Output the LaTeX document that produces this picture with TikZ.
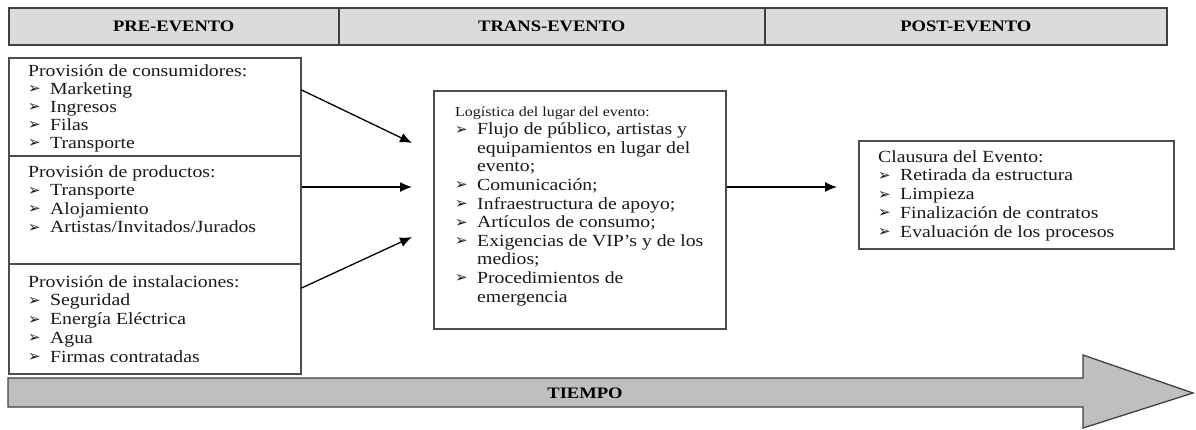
\documentclass[tikz,border=0pt]{standalone}
\usepackage{fontspec}
\setmainfont[FakeStretch=1.16]{Liberation Serif}
\newfontfamily\dingfont{DejaVu Sans}
\usetikzlibrary{calc,arrows.meta}
\newcommand\bul{\makebox[22pt][l]{\raisebox{0.5pt}{\dingfont\fontsize{15}{15}\selectfont ➢}}}
\newcommand\ind{\hspace*{22pt}}
\newcommand\textlines[5]{\foreach \tl [count=\i] in {#5} {\node[txt] (#1-\i) at (#2,{#3+(\i-1)*#4}) {\tl};}}
\begin{document}
\begin{tikzpicture}[x=1pt,y=-1pt,
  hdr/.style={draw=black!75, line width=1.5pt, fill=gray!28, minimum height=37pt, anchor=north west, inner sep=0pt, font=\fontsize{16}{18}\selectfont\bfseries},
  panel/.style={draw=black!70, line width=1.6pt, fill=white, anchor=north west, inner sep=0pt},
  txt/.style={anchor=base west, inner sep=0pt, font=\fontsize{17}{18}\selectfont, text=black!90},
  conn/.style={line width=1.3pt, -{Latex[length=12pt,width=10pt]}}]
\useasboundingbox (0,0) rectangle (1196,429);
% header
\node[hdr, minimum width=330pt] (h1) at (8,7) {PRE-EVENTO};
\node[hdr, minimum width=426pt] (h2) at (338,7) {TRANS-EVENTO};
\node[hdr, minimum width=402pt] (h3) at (764,7) {POST-EVENTO};
% panels
\node[panel, minimum width=292pt, minimum height=98pt] (b1) at (8,57) {};
\node[panel, minimum width=292pt, minimum height=108pt] (b2) at (8,155) {};
\node[panel, minimum width=292pt, minimum height=110pt] (b3) at (8,263) {};
\node[panel, minimum width=292pt, minimum height=238pt] (m) at (433,90) {};
\node[panel, minimum width=315pt, minimum height=108pt] (r) at (858,140) {};
% texts
\textlines{b1t}{28}{76}{18}{Provisión de consumidores:, \bul Marketing, \bul Ingresos, \bul Filas, \bul Transporte}
\textlines{b2t}{28}{177}{18.5}{Provisión de productos:, \bul Transporte, \bul Alojamiento, \bul Artistas/Invitados/Jurados}
\textlines{b3t}{28}{287}{18.8}{Provisión de instalaciones:, \bul Seguridad, \bul Energía Eléctrica, \bul Agua, \bul Firmas contratadas}
\textlines{mt}{455}{116}{18.6}{{\fontsize{13.8}{16}\selectfont Logística del lugar del evento:}, {\bul Flujo de público, artistas y}, \ind equipamientos en lugar del, \ind evento;, \bul Comunicación;, \bul Infraestructura de apoyo;, \bul Artículos de consumo;, \bul Exigencias de VIP’s y de los, \ind medios;, \bul Procedimientos de, \ind emergencia}
\textlines{rt}{878}{162}{18.75}{Clausura del Evento:, \bul Retirada da estructura, \bul Limpieza, \bul Finalización de contratos, \bul Evaluación de los procesos}
% connectors
\coordinate (t1) at (412,143);
\coordinate (t2) at (412,187);
\coordinate (t3) at (412,237);
\coordinate (t4) at (837,187);
\draw[conn] ($(b1.north east)+(0,33)$) -- (t1);
\draw[conn] ($(b2.north east)+(0,32)$) -- (t2);
\draw[conn] ($(b3.north east)+(0,25)$) -- (t3);
\draw[conn] ($(m.north east)+(0,97)$) -- (t4);
% time arrow
\draw[draw=black!75, line width=1.3pt, fill=gray!50] (8,378) -- (1083,378) -- (1083,355) -- (1193,393) -- (1083,428) -- (1083,407) -- (8,407) -- cycle;
\node[font=\fontsize{16}{18}\selectfont\bfseries, inner sep=0pt] (tiempo) at (585,393) {TIEMPO};
\end{tikzpicture}
\end{document}
